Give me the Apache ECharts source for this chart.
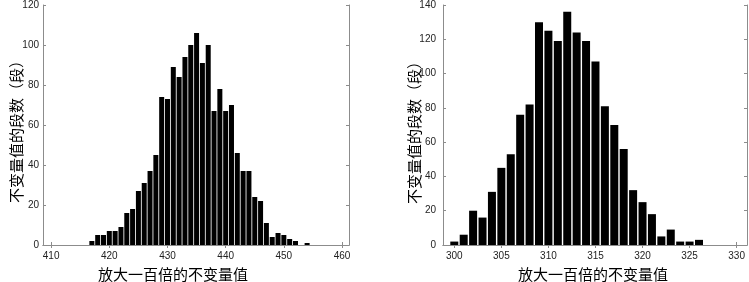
<!DOCTYPE html>
<html>
<head>
<meta charset="utf-8">
<script src="https://cdn.jsdelivr.net/npm/echarts@6/dist/echarts.min.js"></script>
<style>
	html, body { margin: 0; padding: 0; background: #fff; }
	#chart { width: 749px; height: 282px; }
</style>
</head>
<body>
<div id="chart"></div>
<script>
// left histogram: bin centres and counts
var leftBins = [417, 418, 419, 420, 421, 422, 423, 424, 425, 426, 427, 428, 429, 430, 431, 432, 433, 434, 435,
	436, 437, 438, 439, 440, 441, 442, 443, 444, 445, 446, 447, 448, 449, 450, 451, 452, 453, 454];
var leftCounts = [2, 5, 5, 7, 7, 9, 16, 18, 27, 31, 37, 45, 74, 73, 89, 84, 94, 100, 106,
	91, 100, 67, 78, 67, 70, 46, 37, 37, 24, 22, 11, 4, 6, 5, 3, 2, 0, 1];
var leftXTicks = [410, 420, 430, 440, 450, 460];

// right histogram
var rightBins = [300, 301, 302, 303, 304, 305, 306, 307, 308, 309, 310, 311, 312, 313,
	314, 315, 316, 317, 318, 319, 320, 321, 322, 323, 324, 325, 326];
var rightCounts = [2, 6, 20, 16, 31, 45, 53, 76, 82, 130, 125, 119, 136, 124,
	119, 107, 81, 70, 56, 32, 25, 18, 5, 9, 2, 2, 3];
var rightXTicks = [300, 305, 310, 315, 320, 325, 330];

var xName = '放大一百倍的不变量值';
var yName = '不变量值的段数（段）';

function pairs(xs, ys) {
	return xs.map(function (x, i) { return [x, ys[i]]; });
}

var lineGray = '#8c8c8c';
var numFont = {
	color: '#222',
	fontSize: 10,
	fontFamily: '"Liberation Sans Narrow", "Liberation Sans", sans-serif'
};
var cjkFont = '"Noto Sans CJK SC", sans-serif';

function xAxes(grid, min, max, ticks) {
	return [{
		type: 'value',
		gridIndex: grid,
		position: 'bottom',
		min: min,
		max: max,
		splitLine: { show: false },
		axisLine: { show: true, lineStyle: { color: lineGray } },
		axisTick: { inside: true, length: 3, customValues: ticks, lineStyle: { color: lineGray } },
		axisLabel: Object.assign({ margin: 6, customValues: ticks }, numFont)
	}, {
		type: 'value',
		gridIndex: grid,
		position: 'top',
		min: min,
		max: max,
		splitLine: { show: false },
		axisLine: { show: true, lineStyle: { color: lineGray } },
		axisTick: { inside: true, length: 3, customValues: ticks, lineStyle: { color: lineGray } },
		axisLabel: { show: false }
	}];
}

function yAxes(grid, max, margin) {
	return [{
		type: 'value',
		gridIndex: grid,
		position: 'left',
		min: 0,
		max: max,
		interval: 20,
		splitLine: { show: false },
		axisLine: { show: true, lineStyle: { color: lineGray } },
		axisTick: { show: true, inside: true, length: 3, lineStyle: { color: lineGray } },
		axisLabel: Object.assign({ margin: margin }, numFont)
	}, {
		type: 'value',
		gridIndex: grid,
		position: 'right',
		min: 0,
		max: max,
		interval: 20,
		splitLine: { show: false },
		axisLine: { show: true, lineStyle: { color: lineGray } },
		axisTick: { show: true, inside: true, length: 3, lineStyle: { color: lineGray } },
		axisLabel: { show: false }
	}];
}

var chart = echarts.init(document.getElementById('chart'));
var option = {
	animation: false,
	backgroundColor: '#fff',
	grid: [
		{ left: 43, top: 5, width: 306, height: 240 },
		{ left: 443, top: 5, width: 304, height: 240 }
	],
	xAxis: xAxes(0, 408.6, 461.2, leftXTicks).concat(xAxes(1, 298.8, 331.1, rightXTicks)),
	yAxis: yAxes(0, 120, 4).concat(yAxes(1, 140, 7)),
	series: [{
		type: 'bar',
		xAxisIndex: 0,
		yAxisIndex: 0,
		barWidth: 5,
		itemStyle: { color: '#000' },
		data: pairs(leftBins, leftCounts)
	}, {
		type: 'bar',
		xAxisIndex: 2,
		yAxisIndex: 2,
		barWidth: 8,
		itemStyle: { color: '#000' },
		data: pairs(rightBins, rightCounts)
	}],
	graphic: [
		{ type: 'text', x: 173, y: 274, style: { text: xName, font: '15px ' + cjkFont, fill: '#000', align: 'center', verticalAlign: 'middle' } },
		{ type: 'text', x: 593, y: 274, style: { text: xName, font: '15px ' + cjkFont, fill: '#000', align: 'center', verticalAlign: 'middle' } },
		{ type: 'text', x: 16, y: 128, rotation: Math.PI / 2, style: { text: yName, font: '15px ' + cjkFont, fill: '#000', align: 'center', verticalAlign: 'middle' } },
		{ type: 'text', x: 414, y: 129, rotation: Math.PI / 2, style: { text: yName, font: '15px ' + cjkFont, fill: '#000', align: 'center', verticalAlign: 'middle' } }
	]
};
chart.setOption(option);
</script>
</body>
</html>
